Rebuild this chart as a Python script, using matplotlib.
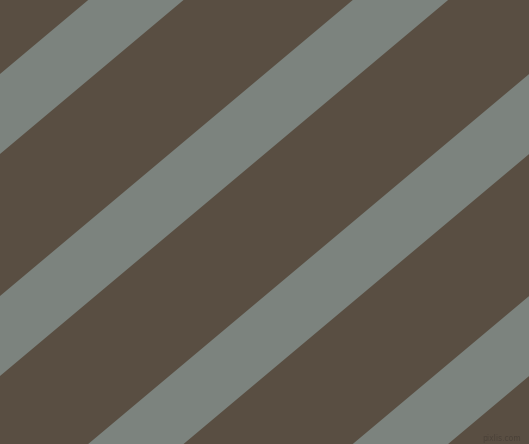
import numpy as np
import matplotlib
matplotlib.use("Agg")
import matplotlib.pyplot as plt

# stripe pattern: bands of constant y + slope*x (pixel units, y downwards)
angle_deg = 40
stripe_start = [74, 296, 518, 740]
stripe_width = 80
width_px, height_px = 529, 444

bg_color = "#594e42"
stripe_color = "#7c837e"

fig = plt.figure(figsize=(width_px / 100, height_px / 100), dpi=100)
ax = fig.add_axes([0, 0, 1, 1])
ax.set_facecolor(bg_color)
fig.patch.set_facecolor(bg_color)

slope = np.tan(np.radians(angle_deg))
x = np.array([0, width_px])
for c0 in stripe_start:
    ax.fill_between(x, c0 - slope * x, c0 + stripe_width - slope * x,
                    color=stripe_color, linewidth=0)

ax.text(502, 438, "pixlis.com", fontsize=5.5, color="#4a4138",
        ha="center", va="center")

ax.set_xlim(0, width_px)
ax.set_ylim(height_px, 0)
ax.axis("off")
fig.savefig("out.png", dpi=100, facecolor=bg_color)
